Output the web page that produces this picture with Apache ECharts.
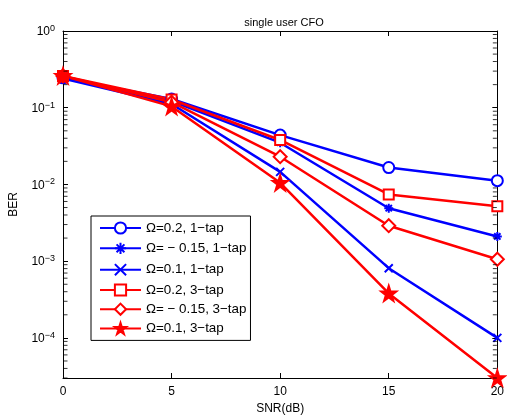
<!DOCTYPE html>
<html>
<head>
<meta charset="utf-8">
<script src="https://cdn.jsdelivr.net/npm/echarts@6/dist/echarts.min.js"></script>
<style>html,body{margin:0;padding:0;background:#fff;}#c{width:507px;height:420px;}</style>
</head>
<body>
<div id="c"></div>
<script>
var snr = [0, 5, 10, 15, 20];
var xTicks = [0, 5, 10, 15, 20];
var names = ['Ω=0.2, 1−tap', 'Ω= − 0.15, 1−tap', 'Ω=0.1, 1−tap', 'Ω=0.2, 3−tap', 'Ω= − 0.15, 3−tap', 'Ω=0.1, 3−tap'];
var ber_02_1tap  = [0.245, 0.130, 0.044, 0.0166, 0.0112];
var ber_m015_1tap = [0.245, 0.122, 0.035, 0.0049, 0.0021];
var ber_01_1tap  = [0.24, 0.112, 0.0146, 0.00081, 0.000100];
var ber_02_3tap  = [0.26, 0.128, 0.038, 0.0074, 0.0052];
var ber_m015_3tap = [0.26, 0.118, 0.023, 0.0029, 0.00106];
var ber_01_3tap  = [0.26, 0.104, 0.0105, 0.00038, 0.000030];
var yMin = 3e-5, yMax = 1;

var BLUE = '#0000ff', RED = '#ff0000';
var F = 'Liberation Sans, Arial, sans-serif';

function pairs(arr){ return snr.map(function(x,i){ return [x, arr[i]]; }); }

var ASTER = 'path://M5,0L5,10M0,5L10,5M1.5,1.5L8.5,8.5M8.5,1.5L1.5,8.5';
var XMARK = 'path://M0,0L10,10M10,0L0,10';
var STAR = 'path://M50,0L61.8,36.2L100,36.2L69.1,58.6L80.9,95.1L50,72.6L19.1,95.1L30.9,58.6L0,36.2L38.2,36.2Z';

function lineSeries(name, data, color, symbol, size, filled, stroked){
  return {
    type: 'line', name: name, data: pairs(data),
    symbol: symbol, symbolSize: size, showAllSymbol: true,
    lineStyle: {color: color, width: 2.5},
    itemStyle: {color: filled ? color : (stroked ? 'none' : color), borderColor: color, borderWidth: 2},
    emphasis: {disabled: true}, animation: false, z: 3
  };
}

// minor ticks for log axis (2..9 x 10^k)
var minorVals = [];
for (var k = -5; k < 0; k++) {
  for (var m = 2; m <= 9; m++) {
    var v = m * Math.pow(10, k);
    if (v > yMin && v < yMax) minorVals.push(v);
  }
}
function minorSeries(xPos, off){
  return {
    type: 'scatter', silent: true, z: 5,
    data: minorVals.map(function(v){ return [xPos, v]; }),
    symbol: 'rect', symbolSize: [4, 1], symbolOffset: [off, 0],
    itemStyle: {color: '#000'}
  };
}

var chart = echarts.init(document.getElementById('c'), null, {renderer: 'canvas'});
var yLabelFmt = function(v){
  var e = Math.log10(v);
  if (Math.abs(e - Math.round(e)) > 1e-6) return '';
  return '{b|10}{s|' + Math.round(e).toString().replace('-', '−') + '}';
};
var option = {
  backgroundColor: '#fff',
  animation: false,
  title: {
    text: 'single user CFO', left: 279, top: 12, textAlign: 'center',
    textStyle: {fontFamily: F, fontSize: 11, fontWeight: 'normal', color: '#000'}
  },
  legend: {
    data: names, orient: 'vertical', left: 91, top: 216,
    itemWidth: 41, itemHeight: 14, itemGap: 5.2,
    padding: [5, 4, 5, 8],
    borderColor: '#000', borderWidth: 1, backgroundColor: '#fff',
    textStyle: {fontFamily: F, fontSize: 13.4, lineHeight: 14, color: '#000'},
    selectedMode: false
  },
  grid: {left: 59, right: 8, top: 31, bottom: 42, containLabel: false},
  xAxis: [{
    type: 'value', min: 0, max: 20, interval: 5, position: 'bottom',
    name: 'SNR(dB)', nameLocation: 'middle', nameGap: 25,
    nameTextStyle: {fontFamily: F, fontSize: 12, color: '#000'},
    axisLine: {show: true, onZero: false, lineStyle: {color: '#000', width: 1}},
    axisTick: {show: true, inside: true, length: 5, lineStyle: {color: '#000'}},
    axisLabel: {fontFamily: F, fontSize: 12, color: '#000', margin: 8},
    splitLine: {show: false}
  }, {
    type: 'value', min: 0, max: 20, interval: 5, position: 'top',
    axisLine: {show: true, onZero: false, lineStyle: {color: '#000', width: 1}},
    axisTick: {show: true, inside: true, length: 5, lineStyle: {color: '#000'}},
    axisLabel: {show: false}, splitLine: {show: false}
  }],
  yAxis: [{
    type: 'log', logBase: 10, min: yMin, max: yMax, position: 'left',
    name: 'BER', nameLocation: 'middle', nameGap: 43, nameRotate: 90,
    nameTextStyle: {fontFamily: F, fontSize: 12, color: '#000'},
    axisLine: {show: true, onZero: false, lineStyle: {color: '#000', width: 1}},
    axisTick: {show: true, inside: true, length: 5, lineStyle: {color: '#000'}},
    axisLabel: {
      color: '#000', margin: 8, formatter: yLabelFmt, showMinLabel: true,
      rich: {
        b: {fontFamily: F, fontSize: 12, color: '#000', verticalAlign: 'bottom', lineHeight: 14},
        s: {fontFamily: F, fontSize: 9, color: '#000', verticalAlign: 'top', lineHeight: 14, padding: [0, 0, 8, 0]}
      }
    },
    splitLine: {show: false}
  }, {
    type: 'log', logBase: 10, min: yMin, max: yMax, position: 'right',
    axisLine: {show: true, onZero: false, lineStyle: {color: '#000', width: 1}},
    axisTick: {show: true, inside: true, length: 5, lineStyle: {color: '#000'}},
    axisLabel: {show: false}, splitLine: {show: false}
  }],
  series: [
    lineSeries(names[0], ber_02_1tap, BLUE, 'emptyCircle', 11, false, false),
    lineSeries(names[1], ber_m015_1tap, BLUE, ASTER, 9, false, true),
    lineSeries(names[2], ber_01_1tap, BLUE, XMARK, 8, false, true),
    lineSeries(names[3], ber_02_3tap, RED, 'emptyRect', 10, false, false),
    lineSeries(names[4], ber_m015_3tap, RED, 'emptyDiamond', 13, false, false),
    lineSeries(names[5], ber_01_3tap, RED, STAR, 15, true, false),
    minorSeries(0, 2.5),
    minorSeries(20, -2.5)
  ]
};
chart.setOption(option);
</script>
</body>
</html>
